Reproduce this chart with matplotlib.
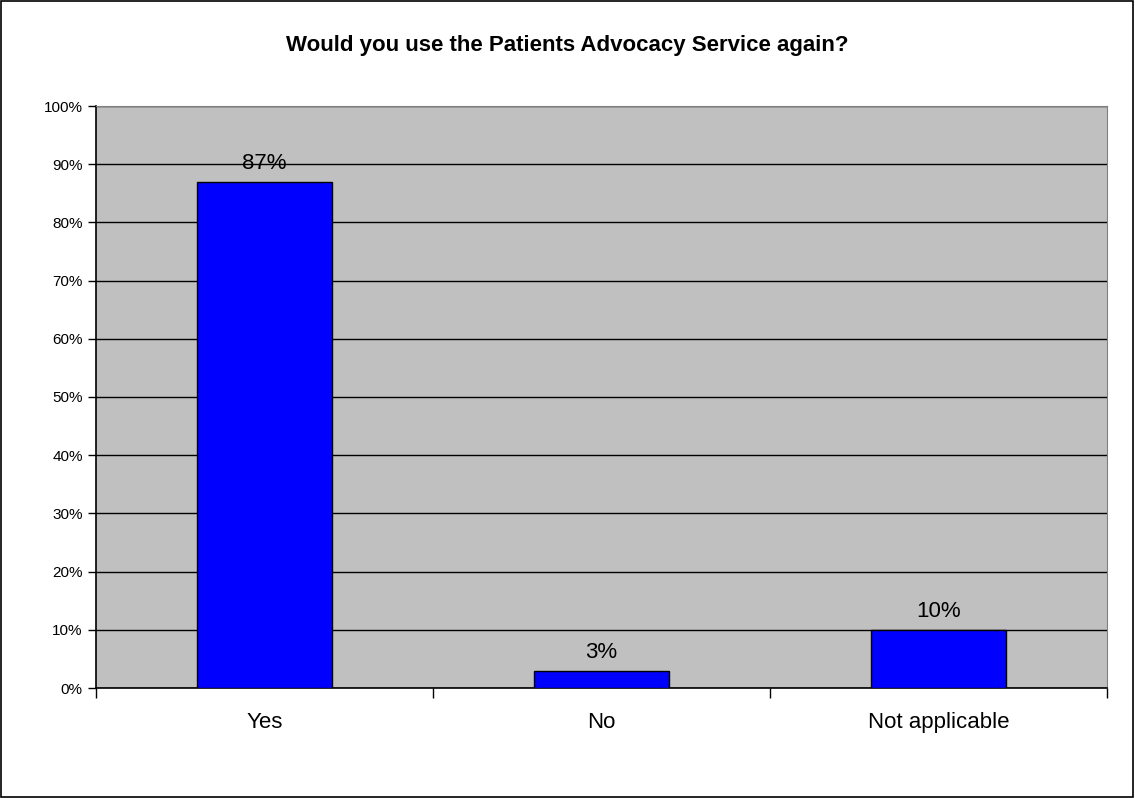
import numpy as np
import matplotlib
matplotlib.use("Agg")
import matplotlib.pyplot as plt
from matplotlib.patches import Rectangle

plt.rcParams["font.family"] = ["Liberation Sans", "DejaVu Sans"]

# data
categories = ["Yes", "No", "Not applicable"]
values = [87, 3, 10]
title = "Would you use the Patients Advocacy Service again?"
yticks = list(range(0, 101, 10))

fig = plt.figure(figsize=(11.35, 7.98), dpi=100)
ax = fig.add_axes([96/1135, 1-688/798, (1107-96)/1135, (688-106)/798])
ax.set_facecolor("#C0C0C0")

x = np.arange(len(categories))
ax.bar(x, values, width=0.4, color="#0000FF", edgecolor="black", linewidth=1, zorder=3)
for xi, v in zip(x, values):
    ax.text(xi, v + 1.3, f"{v}%", ha="center", va="bottom", fontsize=16, zorder=4)

ax.set_xlim(-0.5, len(categories) - 0.5)
ax.set_ylim(0, 100)
ax.set_yticks(yticks)
ax.set_yticklabels([f"{t}%" for t in yticks], fontsize=11)
ax.yaxis.grid(True, color="black", linewidth=1, zorder=1)
ax.set_axisbelow(True)
ax.tick_params(axis="y", direction="out", length=6, width=1, pad=3.5)

# category ticks sit between categories
ax.set_xticks(np.arange(-0.5, len(categories), 1.0))
ax.set_xticklabels([])
ax.set_xticks(x, minor=True)
ax.set_xticklabels(categories, minor=True, fontsize=16)
ax.tick_params(axis="x", which="major", direction="out", length=7, width=1)
ax.tick_params(axis="x", which="minor", length=0, pad=17)

for s in ["top", "right"]:
    ax.spines[s].set_color("#808080")
for s in ["left", "bottom"]:
    ax.spines[s].set_color("black")
    ax.spines[s].set_linewidth(1.2)

fig.text(0.5, 1-45/798, title, ha="center", va="center", fontsize=16, fontweight="bold")
fig.patches.append(Rectangle((0.0005, 0.0007), 0.998, 0.998, transform=fig.transFigure,
                             fill=False, edgecolor="black", linewidth=1.2))

fig.savefig("out.png", dpi=100)
